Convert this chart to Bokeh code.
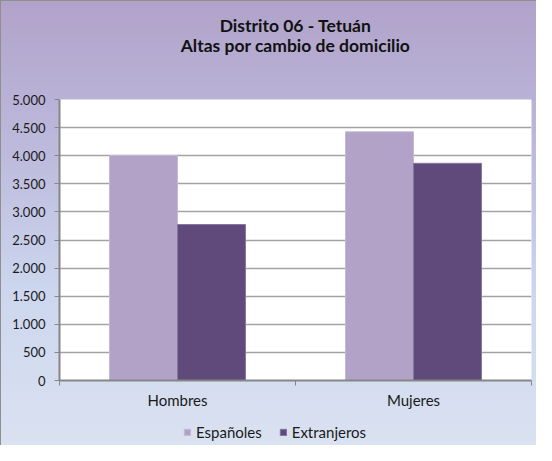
from bokeh.plotting import figure
from bokeh.layouts import column
from bokeh.models import (Range1d, FixedTicker, Legend, LegendItem, Title,
                          ColumnDataSource, InlineStyleSheet)
from bokeh.embed import file_html
from bokeh.resources import INLINE

# ---- data ----
categories = ["Hombres", "Mujeres"]
series_names = ["Españoles", "Extranjeros"]
espanoles = [4005, 4425]
extranjeros = [2775, 3865]
y_ticks = [0, 500, 1000, 1500, 2000, 2500, 3000, 3500, 4000, 4500, 5000]
title_line1 = "Distrito 06 - Tetuán"
title_line2 = "Altas por cambio de domicilio"

FONT = "Lato"
C_ESP = "#B3A2C7"
C_EXT = "#604A7B"
W = 536

css = InlineStyleSheet(css=""":host {
  background: linear-gradient(180deg, #B1A2CA 0%, #BDBBDD 35%, #CCD6EE 65%, #DAE2F1 100%);
  box-shadow: inset 1px 1px 0 #8f8f8f;
}""")

p = figure(width=W, height=420, output_backend="svg", toolbar_location=None,
           x_range=Range1d(0, len(categories)), y_range=Range1d(0, 5000),
           min_border_left=59, min_border_right=5, min_border_top=99,
           min_border_bottom=40)
p.border_fill_alpha = 0
p.background_fill_color = "white"
p.outline_line_color = None

# titles: p.above index 0 is closest to the plot; p.title is outermost
spacer_top = Title(text=" ", text_font_size="10px", standoff=31)
p.add_layout(spacer_top, "above")
t2 = Title(text=title_line2, align="center", text_font=FONT,
           text_font_style="bold", text_font_size="17.5px", text_color="#111111",
           standoff=0)
p.add_layout(t2, "above")
p.title.text = title_line1
p.title.align = "center"
p.title.text_font = FONT
p.title.text_font_style = "bold"
p.title.text_font_size = "17.5px"
p.title.text_color = "#111111"
p.title.standoff = -7

# bars
n = len(categories)
bw = 0.288
centers = [i + 0.5 for i in range(n)]
src = ColumnDataSource(dict(
    x_esp=[c - bw / 2 for c in centers],
    x_ext=[c + bw / 2 for c in centers],
    esp=espanoles, ext=extranjeros))
bar_styles = [dict(fill_color=C_ESP, line_color="#C4B8D6", line_width=1),
              dict(fill_color=C_EXT, line_color="#8577A0", line_width=1)]
r1 = p.vbar(x="x_esp", top="esp", width=bw, source=src, **bar_styles[0])
r2 = p.vbar(x="x_ext", top="ext", width=bw, source=src, **bar_styles[1])

# y axis
yax = p.yaxis[0]
yax.ticker = FixedTicker(ticks=y_ticks)
yax.major_label_overrides = {t: f"{t:,}".replace(",", ".") for t in y_ticks}
yax.minor_tick_line_color = None
yax.major_tick_in = 0
yax.major_tick_out = 5
yax.major_tick_line_color = "#868686"
yax.axis_line_color = "#868686"
yax.axis_line_width = 2
yax.major_label_standoff = 9
yax.major_label_text_font = FONT
yax.major_label_text_font_size = "13px"
yax.major_label_text_color = "#1a1a1a"

# x axis
xax = p.xaxis[0]
xax.ticker = FixedTicker(ticks=centers, minor_ticks=list(range(n + 1)))
xax.major_label_overrides = {c: cat for c, cat in zip(centers, categories)}
xax.major_tick_line_color = None
xax.minor_tick_in = 0
xax.minor_tick_out = 5
xax.minor_tick_line_color = "#868686"
xax.axis_line_color = "#868686"
xax.axis_line_width = 2
xax.major_label_standoff = 4
xax.major_label_text_font = FONT
xax.major_label_text_font_size = "15px"
xax.major_label_text_color = "#1a1a1a"

p.xgrid.grid_line_color = None
p.ygrid.ticker = FixedTicker(ticks=y_ticks)
p.ygrid.grid_line_color = "#a3a3a3"
p.ygrid.grid_line_width = 1.5

# legend strip: its own small figure; its swatch renderers are hidden
pl = figure(width=W, height=25, output_backend="svg", toolbar_location=None,
            x_range=Range1d(0, len(categories)), y_range=Range1d(0, 5000),
            x_axis_type=None, y_axis_type=None,
            min_border_left=59, min_border_right=5, min_border_top=0,
            min_border_bottom=0)
pl.border_fill_alpha = 0
pl.background_fill_alpha = 0
pl.outline_line_color = None
l1 = pl.vbar(x="x_esp", top="esp", width=bw, source=src, visible=False,
             **bar_styles[0])
l2 = pl.vbar(x="x_ext", top="ext", width=bw, source=src, visible=False,
             **bar_styles[1])
legend = Legend(items=[LegendItem(label=series_names[0], renderers=[l1]),
                       LegendItem(label=series_names[1], renderers=[l2])],
                orientation="horizontal", location=(124, 4),
                background_fill_alpha=0, border_line_color=None,
                label_text_font=FONT, label_text_font_size="15px",
                label_text_color="#1a1a1a", glyph_width=8, glyph_height=8,
                spacing=17, padding=2, margin=0, label_standoff=5,
                inactive_fill_alpha=0)
pl.add_layout(legend, "center")

layout = column(p, pl, spacing=0, stylesheets=[css])

open("out.html", "w").write(file_html(layout, INLINE))
